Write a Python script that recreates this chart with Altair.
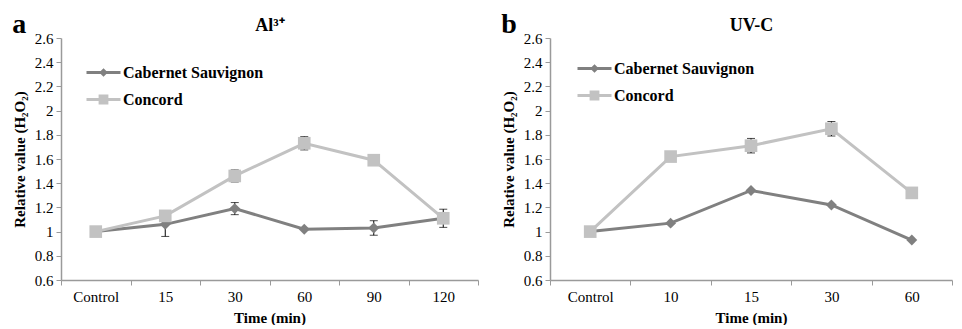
import altair as alt
import pandas as pd

FONT = "Liberation Serif"

series_names = ["Cabernet Sauvignon", "Concord"]
series_colors = ["#808080", "#c2c2c2"]
marker_shapes = ["diamond", "square"]
marker_sizes = [120, 160]
legend_paths = [
    "M-1,0L1,0M0,-0.13L0.13,0L0,0.13L-0.13,0Z",
    "M-1,0L1,0M-0.2,-0.2L0.2,-0.2L0.2,0.2L-0.2,0.2Z",
]

y_ticks = [0.6, 0.8, 1.0, 1.2, 1.4, 1.6, 1.8, 2.0, 2.2, 2.4, 2.6]

# Panel a: Al3+
cats_a = ["Control", "15", "30", "60", "90", "120"]
cab_a = [1.00, 1.06, 1.19, 1.02, 1.03, 1.11]
con_a = [1.00, 1.13, 1.46, 1.73, 1.59, 1.11]
cab_a_err = [0.0, 0.10, 0.05, 0.0, 0.06, 0.075]
con_a_err = [0.0, 0.0, 0.05, 0.055, 0.0, 0.0]

# Panel b: UV-C
cats_b = ["Control", "10", "15", "30", "60"]
cab_b = [1.00, 1.07, 1.34, 1.22, 0.93]
con_b = [1.00, 1.62, 1.71, 1.85, 1.32]
cab_b_err = [0.0, 0.0, 0.0, 0.0, 0.0]
con_b_err = [0.0, 0.0, 0.06, 0.06, 0.0]


def make_panel(cats, cab, con, cab_err, con_err, title, letter, width, lx, ly):
    rows = []
    for i, c in enumerate(cats):
        rows.append({"time": c, "series": series_names[0], "value": cab[i],
                     "err": cab_err[i], "order": i})
        rows.append({"time": c, "series": series_names[1], "value": con[i],
                     "err": con_err[i], "order": i})
    df = pd.DataFrame(rows)
    df["lo"] = df["value"] - df["err"]
    df["hi"] = df["value"] + df["err"]
    err_df = df[df["err"] > 0]

    xscale = alt.Scale(type="band", domain=cats, paddingInner=0, paddingOuter=0)
    yscale = alt.Scale(domain=[0.6, 2.6], nice=False, zero=False)

    x_bottom = alt.X("time:N", scale=xscale, sort=cats,
                     axis=alt.Axis(orient="bottom", title="Time (min)", labelAngle=0,
                                   tickBand="extent", labelPadding=4, titlePadding=6))
    x_none = alt.X("time:N", scale=xscale, sort=cats, axis=None)
    y_axis = alt.Axis(values=y_ticks, format="~g", title="Relative value (H₂O₂)",
                      labelPadding=3, titlePadding=7)
    y_main = alt.Y("value:Q", scale=yscale, axis=y_axis)

    layers = []
    for k, (name, col) in enumerate(zip(series_names, series_colors)):
        layers.append(
            alt.Chart(df).transform_filter(alt.datum.series == name)
            .mark_line(strokeWidth=3, color=col)
            .encode(x=x_bottom if k == 0 else x_none, y=y_main, order="order:Q"))

    layers.append(
        alt.Chart(err_df).mark_errorbar(ticks=True, size=8, thickness=1,
                                        color="black").encode(
            x=x_none,
            y=alt.Y("lo:Q", scale=yscale, axis=y_axis),
            y2="hi:Q"))

    for name, col, shp, sz in zip(series_names, series_colors, marker_shapes,
                                  marker_sizes):
        layers.append(
            alt.Chart(df).transform_filter(alt.datum.series == name)
            .mark_point(filled=True, opacity=1, shape=shp, size=sz, color=col)
            .encode(x=x_none, y=y_main))

    leg = alt.Legend(orient="none", legendX=lx, legendY=ly, title=None,
                     symbolSize=1156, symbolStrokeWidth=3, symbolOpacity=1,
                     labelOffset=1,
                     labelFont=FONT, labelFontSize=16, labelFontWeight="bold",
                     labelColor="black", rowPadding=0, padding=0)
    layers.append(
        alt.Chart(df).mark_point(filled=True, size=0).encode(
            x=alt.X("time:N", scale=xscale, sort=cats,
                    axis=alt.Axis(orient="top", title=title, labels=False,
                                  ticks=False, domain=False, titleFontSize=18,
                                  titleFontWeight="bold", titlePadding=4,
                                  titleColor="black")),
            y=y_main,
            fill=alt.Fill("series:N",
                          scale=alt.Scale(domain=series_names, range=series_colors),
                          legend=leg),
            stroke=alt.Stroke("series:N",
                              scale=alt.Scale(domain=series_names,
                                              range=series_colors),
                              legend=leg),
            shape=alt.Shape("series:N",
                            scale=alt.Scale(domain=series_names, range=legend_paths),
                            legend=leg)))

    return alt.layer(*layers).resolve_axis(x="independent").properties(
        width=width, height=242,
        title=alt.TitleParams(letter, anchor="start", frame="bounds", fontSize=28,
                              fontWeight="bold", offset=-23, font=FONT,
                              color="black"))


panel_a = make_panel(cats_a, cab_a, con_a, cab_a_err, con_a_err,
                     "Al³⁺", "a", 417, 24, 16)
panel_b = make_panel(cats_b, cab_b, con_b, cab_b_err, con_b_err,
                     "UV-C", "b", 402, 26, 12)

chart = alt.hconcat(panel_a, panel_b, spacing=22).resolve_scale(
    fill="independent", stroke="independent", shape="independent"
).resolve_legend(
    fill="independent", stroke="independent", shape="independent"
).properties(
    padding={"left": 4, "top": 3, "right": 0, "bottom": 0}
).configure(font=FONT).configure_view(stroke=None).configure_axis(
    labelFont=FONT, labelFontSize=15, labelColor="black",
    titleFont=FONT, titleFontSize=15, titleFontWeight="bold", titleColor="black",
    domainColor="#9a9a9a", tickColor="#9a9a9a", domainWidth=1.5, tickWidth=1,
    tickSize=5, grid=False)

chart.save("out.html", embed_options={"renderer": "svg", "actions": False})
